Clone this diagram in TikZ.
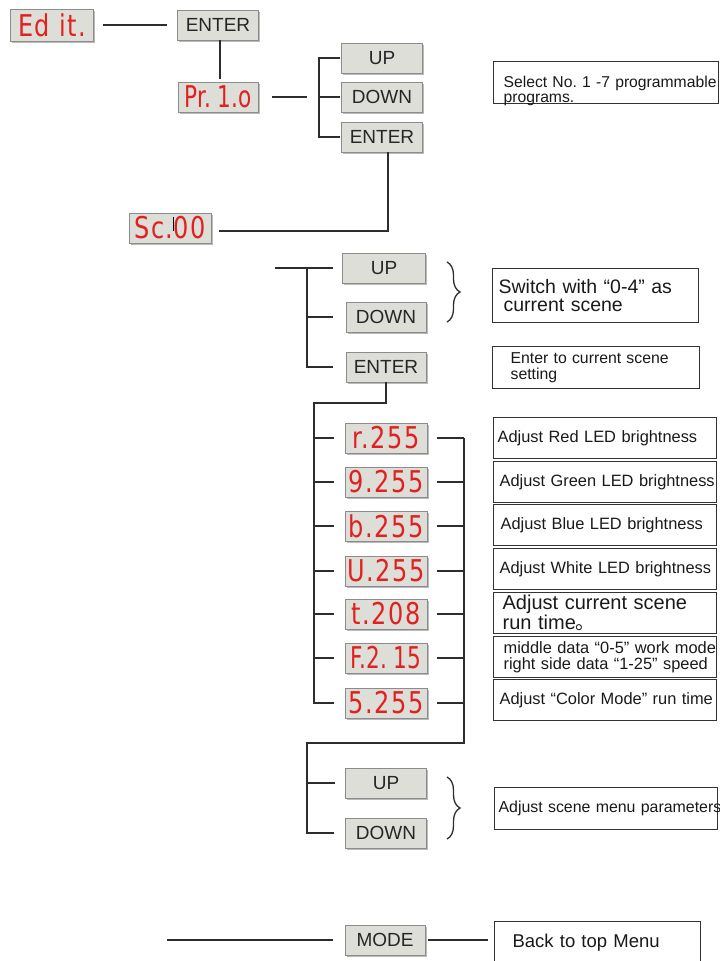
\documentclass[tikz,border=0pt]{standalone}
\usepackage{fontspec}
\setmainfont{Liberation Sans}
\newfontfamily\ledfont[FakeStretch=0.8, LetterSpace=5]{DejaVu Sans}
\newfontfamily\ledtight[FakeStretch=0.72]{DejaVu Sans}
\newfontfamily\cjkfont{Noto Sans CJK SC}
\usetikzlibrary{positioning, shadows, decorations.pathreplacing}
\definecolor{ledred}{RGB}{226,32,32}
\definecolor{keygray}{RGB}{222,222,216}
\definecolor{wiregray}{RGB}{45,45,45}
\tikzset{
    wire/.style={draw=wiregray, line width=1.3pt}, % every connector
    boxshadow/.style={drop shadow={shadow xshift=1.6pt, shadow yshift=-1.8pt, fill=black!45, opacity=.6}},
}
\frenchspacing

\begin{document}
\begin{tikzpicture}[x=1pt, y=-1pt]
        \tikzset{
            button/.style={draw=black!45, fill=keygray, line width=.8pt, minimum width=81pt,
                minimum height=30pt, inner sep=0pt, font=\fontsize{19}{19}\selectfont, text=black!85, boxshadow},
            led/.style={button, minimum width=82pt, text=ledred, font=\ledfont\fontsize{30}{30}\selectfont},
            tightled/.style={led, font=\ledtight\fontsize{30}{30}\selectfont},
            %
            note/.style={draw=black!80, line width=1.2pt, anchor=north west, align=left,
                inner ysep=2pt, minimum height=41pt, text=black!90},
            small/.style={font=\fontsize{16.4}{16}\selectfont},
            %
            curly/.style={decorate, decoration={brace, amplitude=13pt}, line width=1.3pt, draw=wiregray},
        }
        \useasboundingbox (0,0) rectangle (720,961);

        % program menu
        \node[led, minimum width=83pt, minimum height=32pt] (edit) at (52,25) {Ed it.};
        \node[button] (enterA) at (218,25) {ENTER};
        \node[tightled, minimum width=80pt] (prog) at (218,97) {Pr. 1.o};
        \node[button] (upA) at (382,58) {UP};
        \node[button] (downA) at (382,97) {DOWN};
        \node[button] (enterB) at (382,137) {ENTER};
        \node[led] (scene) at (170,228)
            {Sc.\makebox[0pt]{\color{black}\rule[8pt]{1.2pt}{14pt}}00};

        % scene menu
        \node[button, minimum width=83pt] (upB) at (384,268) {UP};
        \node[button, minimum width=80pt] (downB) at (386,317) {DOWN};
        \node[button, minimum width=80pt] (enterC) at (386,367) {ENTER};

        \foreach \i/\y/\t in {1/438/r.255, 2/482/9.255, 3/526/b.255, 4/571/U.255,
                              5/614/t.208, 7/703/5.255}
            \node[led] (d\i) at (386,\y) {\t};
        \node[tightled] (d6) at (386,658) {F.2. 15};

        \node[button] (upC) at (386,783) {UP};
        \node[button] (downC) at (386,833) {DOWN};
        \node[button, minimum width=80pt] (mode) at (385,940) {MODE};

        % notes
        \node[note, text width=205pt, inner xsep=10pt, text height=24pt, text depth=14pt,
              font=\fontsize{15.7}{15}\selectfont] (nProg) at (493,61)
              {\mbox{Select No. 1 -7 programmable}\\programs.};
        \node[note, text width=194pt, inner xsep=6pt, minimum height=54pt,
              font=\fontsize{19.5}{18}\selectfont] (nSwitch) at (492,268)
              {Switch with “0-4” as\\\hspace*{5pt}current scene};
        \node[note, text width=171pt, inner xsep=18pt, minimum height=42pt,
              font=\fontsize{15.8}{16}\selectfont] (nEnter) at (492,346)
              {Enter to current scene\\setting};
        \node[note, small, text width=215pt, inner xsep=4pt] (nRed) at (493,417)
              {Adjust Red LED brightness};
        \node[note, small, text width=211pt, inner xsep=6pt] (nGreen) at (493,461)
              {\mbox{Adjust Green LED brightness}};
        \node[note, small, text width=209pt, inner xsep=7pt] (nBlue) at (493,504)
              {Adjust Blue LED brightness};
        \node[note, small, text width=211pt, inner xsep=6pt] (nWhite) at (493,548)
              {\mbox{Adjust White LED brightness}};
        \node[note, text width=205pt, inner xsep=9pt, font=\fontsize{20}{17}\selectfont] (nTime) at (493,592)
              {Adjust current scene\\run time{\cjkfont 。}};
        \node[note, small, text width=203pt, inner xsep=10pt] (nMode) at (493,636)
              {\mbox{middle data “0-5” work mode}\\\mbox{right side data “1-25” speed}};
        \node[note, small, text width=211pt, inner xsep=6pt] (nColor) at (493,679)
              {\mbox{Adjust “Color Mode” run time}};
        \node[note, text width=215pt, inner xsep=4pt, minimum height=42pt,
              font=\fontsize{15.9}{16}\selectfont] (nParam) at (494,787)
              {\mbox{Adjust scene menu parameters}};
        \node[note, text width=170pt, inner xsep=18pt, text height=24pt, text depth=33pt,
              font=\fontsize{18.5}{18}\selectfont] (nBack) at (494,921)
              {Back to top Menu};

        % connectors, top
        \draw[wire, shorten <=9pt, shorten >=10pt] (edit) -- (enterA);
        \draw[wire, shorten >=3pt] ([xshift=2pt]enterA.south) -- ([xshift=2pt]prog.north);
        \coordinate (pA) at (307,97);
        \coordinate (bA) at (319,97);
        \draw[wire, shorten <=14pt] (prog) -- (pA);
        \draw[wire, shorten <=1.5pt, shorten >=1.5pt] (upA) -| (bA) |- (enterB);
        \draw[wire, shorten >=1.5pt] (bA) -- (downA);
        \draw[wire, shorten >=8pt] ([xshift=6pt]enterB.south) |- ([yshift=-3pt]scene.east);

        % connectors, scene
        \coordinate (sB) at (275,268);
        \coordinate (bB) at (307,317);
        \draw[wire, shorten >=9.5pt] (sB) -- (upB);
        \draw[wire, shorten >=13pt] (sB -| bB) |- (enterC);
        \draw[wire, shorten >=13pt] (bB) -- (downB);
        \draw[curly] (447,262) -- (447,322);

        % connectors, displays
        \coordinate (cC) at (314,403);
        \draw[wire, shorten >=11pt] (enterC) |- (cC) |- (d7);
        \foreach \i in {1,...,6}
            \draw[wire, shorten >=11pt] (cC |- d\i) -- (d\i);
        \coordinate (rC) at (464,743);
        \coordinate (lC) at (307,743);
        \foreach \i in {1,...,7}
            \draw[wire, shorten <=10pt] (d\i) -- (d\i -| rC);
        \draw[wire, shorten >=11pt] (d1 -| rC) -- (rC) -- (lC) |- (downC);
        \draw[wire, shorten >=10pt] (lC |- upC) -- (upC);
        \draw[curly] (447,777) -- (447,839);

        % back to top
        \coordinate (mL) at (167,940);
        \draw[wire, shorten >=12pt] (mL) -- (mode);
        \draw[wire, shorten <=3pt, shorten >=6pt] (mode) -- (mode -| nBack.west);
    \end{tikzpicture}
\end{document}
